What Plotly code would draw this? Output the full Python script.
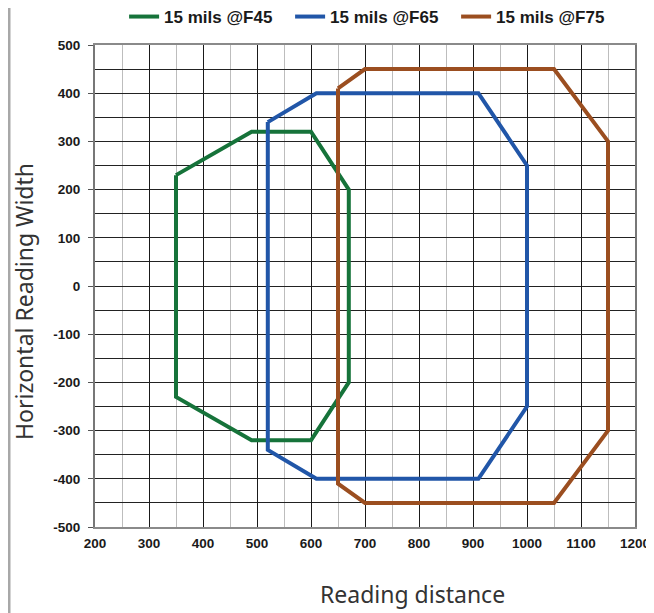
import plotly.graph_objects as go

# Data
f45_x = [350, 490, 600, 670, 670, 600, 490, 350, 350]
f45_y = [230, 320, 320, 200, -200, -320, -320, -230, 230]
f65_x = [520, 610, 910, 1000, 1000, 910, 610, 520, 520]
f65_y = [340, 400, 400, 250, -250, -400, -400, -340, 340]
f75_x = [650, 700, 1050, 1150, 1150, 1050, 700, 650, 650]
f75_y = [410, 450, 450, 300, -300, -450, -450, -410, 410]
series_names = ["15 mils @F45", "15 mils @F65", "15 mils @F75"]
colors = ["#16733a", "#2156a8", "#9b4e20"]
y_tickvals = [-500, -400, -300, -200, -100, 0, 100, 200, 300, 400, 500]
y_ticktext = ["-500", "-400", "-300", "-200", "-100", "0", "100", "200", "300", "400", "500"]

fig = go.Figure()
for xs, ys, name, c in zip([f45_x, f65_x, f75_x], [f45_y, f65_y, f75_y], series_names, colors):
    fig.add_trace(go.Scatter(x=xs, y=ys, mode="lines", name=name,
                             line=dict(color=c, width=4), hoverinfo="skip"))

tickfont = dict(family="Liberation Sans, Arial, sans-serif", size=13.5, color="#1a1a1a", weight="bold")

# page body has an 8px margin, so the figure is laid out in its own coordinates
L, T, PW, PH = 87, 37, 540, 482
FW, FH = 646, 605

fig.update_layout(
    width=FW, height=FH,
    margin=dict(l=L, r=FW - L - PW, t=T, b=FH - T - PH, autoexpand=False),
    paper_bgcolor="white", plot_bgcolor="white",
    showlegend=True,
    legend=dict(orientation="h", x=0.515, xanchor="center", y=(T + PH - 9) / PH, yanchor="middle",
                font=dict(family="Liberation Sans, Arial, sans-serif", size=17, color="#1a1a1a", weight="bold"),
                entrywidth=121, entrywidthmode="pixels",
                itemwidth=30, tracegroupgap=0, bgcolor="rgba(0,0,0,0)"),
    xaxis=dict(range=[200, 1200], dtick=100, tick0=200, showgrid=True, gridcolor="#1a1a1a", gridwidth=1,
               minor=dict(dtick=50, showgrid=True, gridcolor="#bdbdbd", gridwidth=1),
               showline=True, linecolor="#8a8a8a", linewidth=2, mirror=True,
               ticks="", tickfont=tickfont, ticklabelstandoff=3,
               zeroline=False, fixedrange=True, automargin=False),
    yaxis=dict(range=[-500, 500], tickvals=y_tickvals, ticktext=y_ticktext,
               showgrid=True, gridcolor="#222222", gridwidth=1,
               minor=dict(dtick=50, showgrid=True, gridcolor="#222222", gridwidth=1),
               showline=True, linecolor="#777777", linewidth=2, mirror=True,
               ticks="outside", ticklen=5, tickcolor="#555555", tickfont=tickfont, ticklabelstandoff=5,
               zeroline=False, fixedrange=True, automargin=False),
    annotations=[
        dict(text="Reading distance", xref="paper", yref="paper", x=(404 - L) / PW, y=(T + PH - 586) / PH,
             xanchor="center", yanchor="middle", showarrow=False,
             font=dict(family="Noto Sans, Open Sans, sans-serif", size=23, color="#333333")),
        dict(text="Horizontal Reading Width", xref="paper", yref="paper", x=(16 - L) / PW, y=(T + PH - 294) / PH,
             xanchor="center", yanchor="middle", showarrow=False, textangle=-90,
             font=dict(family="Noto Sans, Open Sans, sans-serif", size=23, color="#333333")),
    ],
    shapes=[
        dict(type="line", xref="paper", yref="paper", x0=(1 - L) / PW, x1=(1 - L) / PW,
             y0=(T + PH - FH) / PH, y1=(T + PH) / PH, line=dict(color="#a8a8a8", width=3)),
    ],
)

fig.write_html("out.html")
